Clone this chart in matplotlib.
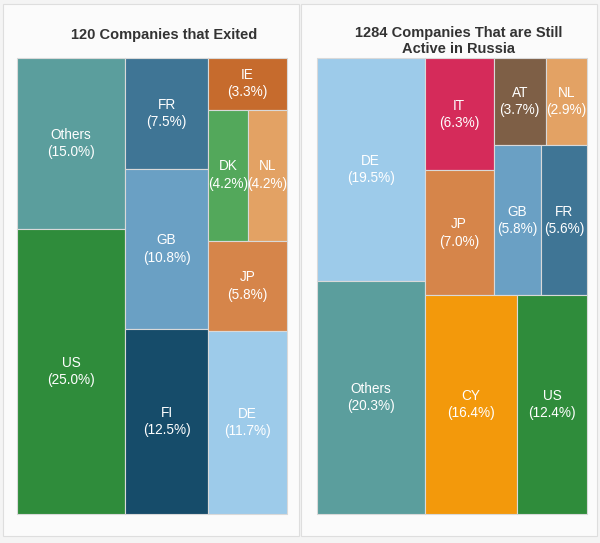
import matplotlib
matplotlib.use("Agg")
import matplotlib.pyplot as plt
from matplotlib.patches import Rectangle

plt.rcParams['font.family'] = ['Liberation Sans', 'DejaVu Sans']

# ---- data ----
exited_labels = ["Others", "US", "FR", "GB", "FI", "IE", "DK", "NL", "JP", "DE"]
exited_values = [15.0, 25.0, 7.5, 10.8, 12.5, 3.3, 4.2, 4.2, 5.8, 11.7]

active_labels = ["DE", "Others", "IT", "JP", "AT", "NL", "GB", "FR", "CY", "US"]
active_values = [19.5, 20.3, 6.3, 7.0, 3.7, 2.9, 5.8, 5.6, 16.4, 12.4]

titles = ["120 Companies that Exited", "1284 Companies That are Still\nActive in Russia"]

# ---- layout grouping (nested slice structure) & styles ----
exited_tree = [["Others", "US"], ["FR", "GB", "FI"], ["IE", ["DK", "NL"], "JP", "DE"]]
active_tree = [["DE", "Others"], [[["IT", "JP"], [["AT", "NL"], ["GB", "FR"]]], ["CY", "US"]]]

colors = {
    "Others": "#5b9e9d", "US": "#2f8c3b", "FR": "#3f7595", "GB": "#6aa0c4",
    "FI": "#164c6a", "IE": "#c66b2d", "DK": "#53a85b", "NL": "#e3a264",
    "JP": "#d6854a", "DE": "#9dcbea", "IT": "#d52b5a", "AT": "#7e5f46",
    "CY": "#f3990b",
}


def total(node, vals):
    if isinstance(node, str):
        return vals[node]
    return sum(total(n, vals) for n in node)


def layout(node, vals, x, y, w, h, horiz, out):
    if isinstance(node, str):
        out[node] = (x, y, w, h)
        return
    t = total(node, vals)
    pos = 0.0
    for child in node:
        frac = total(child, vals) / t
        if horiz:
            layout(child, vals, x + pos * w, y, w * frac, h, not horiz, out)
        else:
            layout(child, vals, x, y + pos * h, w, h * frac, not horiz, out)
        pos += frac


fig = plt.figure(figsize=(6.0, 5.43), dpi=100, facecolor="#f4f4f4")
ax = fig.add_axes([0, 0, 1, 1])
ax.set_xlim(0, 600)
ax.set_ylim(543, 0)
ax.axis("off")

# cards
for cx in (3, 301):
    ax.add_patch(Rectangle((cx, 4), 296, 532, facecolor="#fbfbfb", edgecolor="#dedede", lw=0.8, zorder=0))

panels = [
    (exited_labels, exited_values, exited_tree, (17, 58, 270, 456), 164, 35),
    (active_labels, active_values, active_tree, (317, 58, 270, 456), 459, 41),
]

for i, (labels, values, tree, box, tx, ty) in enumerate(panels):
    vals = dict(zip(labels, values))
    out = {}
    x0, y0, w0, h0 = box
    layout(tree, vals, x0, y0, w0, h0, True, out)
    for lab in labels:
        x, y, w, h = out[lab]
        ax.add_patch(Rectangle((x, y), w, h, facecolor=colors[lab], edgecolor="#d9d9d9", lw=0.8, zorder=1))
        ax.text(x + w / 2, y + h / 2, f"{lab}\n({vals[lab]:.1f}%)", ha="center", va="center",
                color="white", fontsize=9.8, linespacing=1.3, zorder=2)
    ax.text(tx, ty, titles[i], ha="center", va="center", fontsize=10.5, fontweight="bold",
            color="#333333", linespacing=1.12)

fig.savefig("out.png", dpi=100, facecolor=fig.get_facecolor())
